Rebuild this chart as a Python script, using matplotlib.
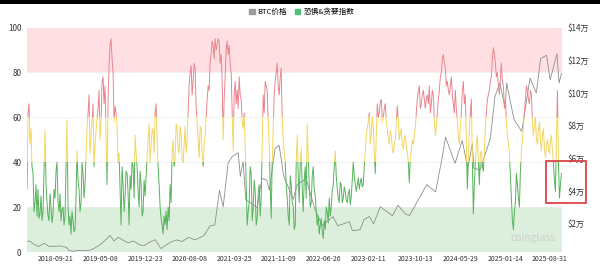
import pandas as pd
import matplotlib
matplotlib.use("Agg")
import matplotlib.pyplot as plt
from matplotlib.patches import Rectangle, Patch
from matplotlib.transforms import blended_transform_factory

plt.rcParams['font.family'] = ['Noto Sans CJK SC', 'DejaVu Sans']

fg_start = "2018-04-26"
fg_end = "2025-10-29"
fg_values = [
    28, 62, 66, 48, 55, 38, 35, 18, 22, 30,
    16, 28, 15, 17, 25, 14, 18, 36, 54, 30,
    22, 16, 14, 26, 20, 13, 17, 28, 24, 36,
    40, 22, 18, 26, 14, 19, 20, 12, 16, 38,
    59, 20, 12, 16, 8, 18, 14, 9, 10, 24,
    45, 32, 28, 18, 22, 40, 35, 24, 30, 44,
    55, 62, 70, 44, 52, 58, 66, 38, 48, 54,
    60, 64, 72, 50, 58, 76, 78, 66, 74, 52,
    30, 68, 84, 92, 95, 86, 80, 58, 65, 62,
    56, 40, 44, 28, 12, 38, 30, 18, 25, 36,
    35, 26, 12, 34, 28, 40, 38, 24, 52, 44,
    38, 27, 20, 36, 30, 16, 18, 32, 25, 34,
    42, 50, 57, 40, 48, 54, 55, 44, 62, 66,
    50, 38, 30, 20, 15, 12, 8, 16, 12, 18,
    10, 20, 14, 30, 22, 45, 50, 38, 42, 57,
    55, 46, 44, 56, 52, 41, 40, 48, 56, 44,
    50, 62, 74, 80, 83, 70, 76, 84, 82, 64,
    58, 50, 42, 56, 55, 44, 38, 48, 52, 60,
    68, 74, 72, 85, 88, 94, 92, 86, 95, 90,
    92, 95, 94, 84, 88, 76, 50, 68, 78, 90,
    94, 88, 92, 84, 80, 62, 45, 70, 76, 66,
    72, 64, 78, 70, 68, 58, 55, 62, 48, 30,
    12, 18, 22, 38, 35, 14, 20, 32, 27, 12,
    15, 26, 30, 16, 24, 48, 70, 62, 76, 74,
    72, 58, 48, 30, 15, 40, 55, 70, 76, 80,
    84, 74, 70, 78, 82, 60, 50, 44, 40, 30,
    24, 16, 12, 34, 30, 22, 20, 10, 12, 40,
    52, 34, 22, 40, 46, 28, 18, 32, 38, 24,
    57, 42, 30, 20, 22, 34, 38, 28, 25, 18,
    12, 16, 8, 12, 15, 9, 6, 14, 10, 20,
    18, 13, 24, 16, 20, 27, 30, 38, 45, 34,
    28, 24, 22, 31, 30, 22, 24, 29, 27, 23,
    22, 26, 28, 21, 25, 32, 40, 34, 30, 27,
    30, 33, 28, 31, 33, 29, 30, 38, 45, 52,
    55, 58, 62, 48, 52, 60, 56, 44, 35, 52,
    66, 60, 62, 67, 68, 58, 60, 64, 66, 58,
    55, 50, 48, 54, 52, 46, 44, 48, 50, 58,
    65, 58, 50, 53, 55, 48, 46, 50, 52, 47,
    44, 40, 31, 42, 45, 50, 48, 52, 55, 62,
    68, 72, 74, 64, 66, 70, 72, 68, 64, 68,
    70, 66, 74, 62, 66, 72, 70, 58, 52, 56,
    62, 68, 72, 78, 80, 86, 88, 84, 82, 74,
    76, 72, 70, 74, 78, 70, 66, 62, 72, 64,
    58, 52, 48, 56, 62, 72, 76, 66, 70, 50,
    28, 42, 55, 62, 68, 40, 17, 30, 40, 48,
    52, 40, 30, 44, 45, 38, 36, 46, 55, 62,
    68, 70, 72, 76, 78, 86, 91, 88, 84, 78,
    80, 74, 70, 78, 84, 76, 74, 64, 68, 58,
    52, 48, 44, 34, 25, 14, 10, 18, 22, 35,
    30, 24, 20, 36, 45, 50, 55, 62, 68, 74,
    72, 68, 66, 72, 70, 58, 52, 56, 60, 50,
    48, 54, 58, 50, 45, 52, 55, 46, 42, 48,
    50, 46, 44, 50, 52, 45, 40, 32, 27, 50,
    72, 40, 24, 30, 35,
]

btc_dates = [
    "2018-04-26", "2018-05-10", "2018-06-01", "2018-06-25", "2018-07-25", "2018-08-15",
    "2018-09-10", "2018-10-15", "2018-11-15", "2018-11-25", "2018-12-15", "2019-01-10",
    "2019-02-08", "2019-03-15", "2019-04-05", "2019-05-15", "2019-06-26", "2019-07-17",
    "2019-08-06", "2019-09-25", "2019-10-26", "2019-11-25", "2019-12-18", "2020-01-15",
    "2020-02-13", "2020-03-13", "2020-04-01", "2020-04-30", "2020-06-01", "2020-07-01",
    "2020-08-01", "2020-09-05", "2020-10-21", "2020-11-20", "2020-12-15", "2021-01-08",
    "2021-01-27", "2021-02-21", "2021-03-13", "2021-04-14", "2021-04-25", "2021-05-09",
    "2021-05-23", "2021-06-22", "2021-07-20", "2021-08-14", "2021-09-07", "2021-09-21",
    "2021-10-20", "2021-11-10", "2021-12-04", "2022-01-22", "2022-02-10", "2022-03-29",
    "2022-05-10", "2022-06-18", "2022-07-10", "2022-08-14", "2022-09-07", "2022-11-05",
    "2022-11-21", "2022-12-31", "2023-01-20", "2023-02-16", "2023-03-10", "2023-04-13",
    "2023-06-15", "2023-07-13", "2023-08-20", "2023-09-11", "2023-10-24", "2023-12-08",
    "2024-01-22", "2024-02-28", "2024-03-13", "2024-05-01", "2024-06-07", "2024-07-05",
    "2024-07-29", "2024-08-05", "2024-09-06", "2024-10-29", "2024-11-22", "2024-12-17",
    "2025-01-13", "2025-01-21", "2025-02-27", "2025-04-08", "2025-05-21", "2025-06-22",
    "2025-07-14", "2025-08-14", "2025-09-01", "2025-10-06", "2025-10-17", "2025-10-29",
]
btc_prices = [
    9300, 9500, 7500, 6200, 8200, 6300,
    6300, 6500, 5600, 3900, 3300, 3700,
    3600, 3900, 5000, 8000, 12900, 9500,
    11800, 8500, 9500, 7100, 6600, 8800,
    10300, 4900, 6500, 8700, 10200, 9200,
    11800, 10200, 12900, 18700, 19400, 40500,
    30400, 57000, 61000, 63500, 49000, 58000,
    34700, 32500, 29800, 47800, 46800, 40500,
    66000, 68000, 49000, 35000, 44000, 47500,
    30000, 19000, 21000, 24400, 18800, 21300,
    15800, 16500, 22700, 24500, 20000, 30400,
    25000, 31400, 26100, 25100, 34500, 44000,
    39500, 62500, 73000, 57000, 71000, 54000,
    69000, 54000, 53000, 72000, 98000, 106000,
    91000, 106000, 84000, 76500, 109000, 100000,
    121000, 123000, 108000, 124000, 106000, 112000,
]

x_ticks = ["2018-09-21", "2019-05-08", "2019-12-23", "2020-08-08", "2021-03-25", "2021-11-09",
           "2022-06-26", "2023-02-11", "2023-10-13", "2024-05-29", "2025-01-14", "2025-08-31"]
left_ticks = [0, 20, 40, 60, 80, 100]
right_ticks = [20000, 40000, 60000, 80000, 100000, 120000, 140000]
right_labels = ["$2万", "$4万", "$6万", "$8万", "$10万", "$12万", "$14万"]

RED = "#ea858e"
YELLOW = "#f4d65c"
GREEN = "#55b35a"
GRAY = "#8e8e8e"

fg_dates = pd.date_range(fg_start, fg_end, periods=len(fg_values))
btc_dates = pd.to_datetime(btc_dates)

fig = plt.figure(figsize=(6, 2.66), dpi=100)
ax2 = fig.add_axes([0.045, 0.0526, 0.8917, 0.844])
ax = ax2.twinx()

# background bands + grid drawn on the lower axes
ax2.add_patch(Rectangle((0, 0.8), 1, 0.2, transform=ax2.transAxes, color="#ffdfe2", lw=0, zorder=0))
ax2.add_patch(Rectangle((0, 0), 1, 0.2, transform=ax2.transAxes, color="#dcefdc", lw=0, zorder=0))
for g in [0.2, 0.4, 0.6, 0.8]:
    ax2.plot([0, 1], [g, g], transform=ax2.transAxes, color="#ececec", lw=0.5, zorder=0.5)

ax2.plot(btc_dates, btc_prices, color=GRAY, lw=0.6, zorder=2)
ax2.set_ylim(2800, 140000)
ax2.set_yticks(right_ticks)
ax2.set_yticklabels(right_labels)
ax2.yaxis.tick_right()

# fear & greed, coloured by zone
blend = blended_transform_factory(ax.transAxes, ax.transData)
for lo, hi, c in [(60, 101, RED), (40, 60, YELLOW), (-1, 40, GREEN)]:
    ln, = ax.plot(fg_dates, fg_values, color=c, lw=0.7, zorder=3)
    clip = Rectangle((0, lo), 1, hi - lo, transform=blend)
    ln.set_clip_path(clip)

ax.set_ylim(0, 100)
ax.set_yticks(left_ticks)
ax.yaxis.tick_left()
ax.set_xlim(pd.Timestamp(fg_start), pd.Timestamp(fg_end) + pd.Timedelta(days=3))
ax.set_xticks(pd.to_datetime(x_ticks))
ax.set_xticklabels(x_ticks)

for a in (ax, ax2):
    for s in a.spines.values():
        s.set_visible(False)
    a.tick_params(length=0, labelsize=5, colors="#333333")
ax.tick_params(axis="y", pad=4, labelsize=5.8)
ax2.tick_params(axis="y", pad=4, labelsize=5.8)
ax2.tick_params(axis="x", pad=2)
ax.tick_params(axis="x", pad=2)

fig.legend(handles=[Patch(color="#9a9a9a"), Patch(color="#4fbf7a")],
           labels=["BTC价格", "恐惧&贪婪指数"], ncol=2, loc="center",
           bbox_to_anchor=(0.503, 0.955), frameon=False, fontsize=5.5,
           handlelength=0.7, handleheight=0.7, handletextpad=0.4, columnspacing=1.0)

fig.text(0.888, 0.105, "coinglass", fontsize=7.5, color="#cfcfcf", ha="center", va="center")

# screenshot border and annotation box
fig.patches.append(Rectangle((0, 0.985), 1, 0.015, transform=fig.transFigure, color="black", lw=0))
fig.patches.append(Rectangle((0.91, 0.2368), 0.0667, 0.158, transform=fig.transFigure,
                             fill=False, edgecolor="#d9343a", lw=1.2))

fig.savefig("out.png", dpi=100)
